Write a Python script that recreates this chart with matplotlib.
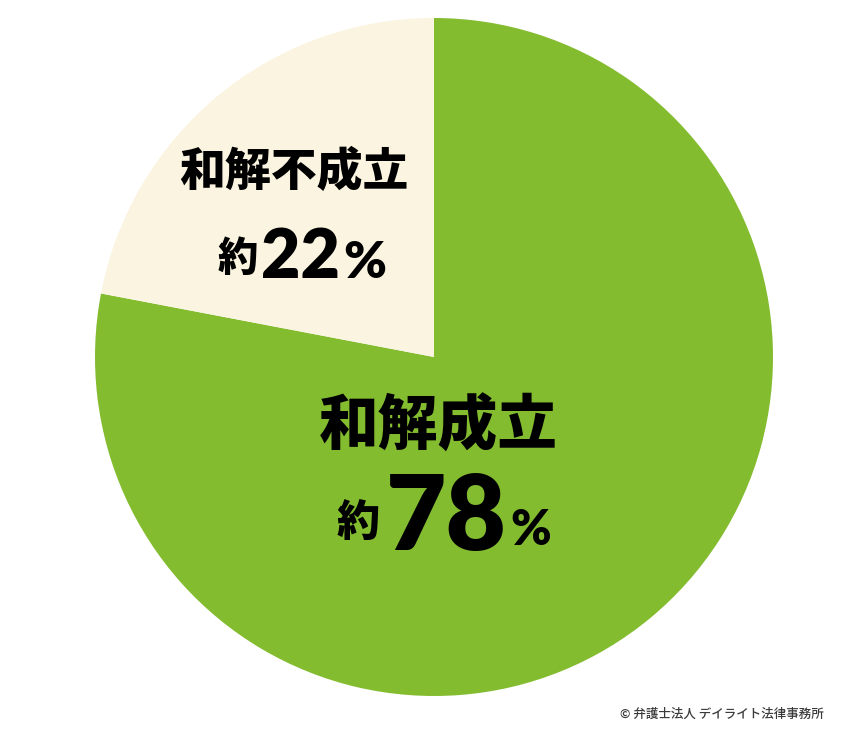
import matplotlib.pyplot as plt

labels = ['和解成立', '和解不成立']
shares = [78, 22]
colors = ['#84bc30', '#faf4e0']

W, H = 850, 738
JP = ['Noto Sans CJK JP', 'DejaVu Sans']
NUM = ['Lato', 'DejaVu Sans']

fig = plt.figure(figsize=(W / 100, H / 100), dpi=100)
ax = fig.add_axes([0, 0, 1, 1])

# pie in pixel coords (y measured from the bottom)
ax.pie(shares, colors=colors, startangle=90, counterclock=False,
       center=(434, H - 357), radius=339, frame=True,
       wedgeprops={'linewidth': 0})
ax.set_xlim(0, W)
ax.set_ylim(0, H)
ax.axis('off')


def put(x, y, s, size, family, ha='center', va='center', weight='heavy'):
    ax.text(x, H - y, s, fontsize=size, family=family, fontweight=weight,
            ha=ha, va=va, color='black')


# small slice label
put(294, 172, labels[1], 33, JP)
put(238, 259, '約', 29, JP)
put(301, 278, f'{shares[1]}', 49, NUM, va='baseline')
put(365, 278, '%', 37, NUM, va='baseline')

# large slice label
put(438, 427, labels[0], 43, JP)
put(358, 523, '約', 31, JP)
put(446, 550, f'{shares[0]}', 75, NUM, va='baseline')
put(531, 545, '%', 35, NUM, va='baseline')

ax.text(824, H - 714, '© 弁護士法人 デイライト法律事務所', fontsize=9,
        family=JP, fontweight='medium', color='#3a3a3a', ha='right', va='center')

fig.savefig('out.png', dpi=100, facecolor='white')
